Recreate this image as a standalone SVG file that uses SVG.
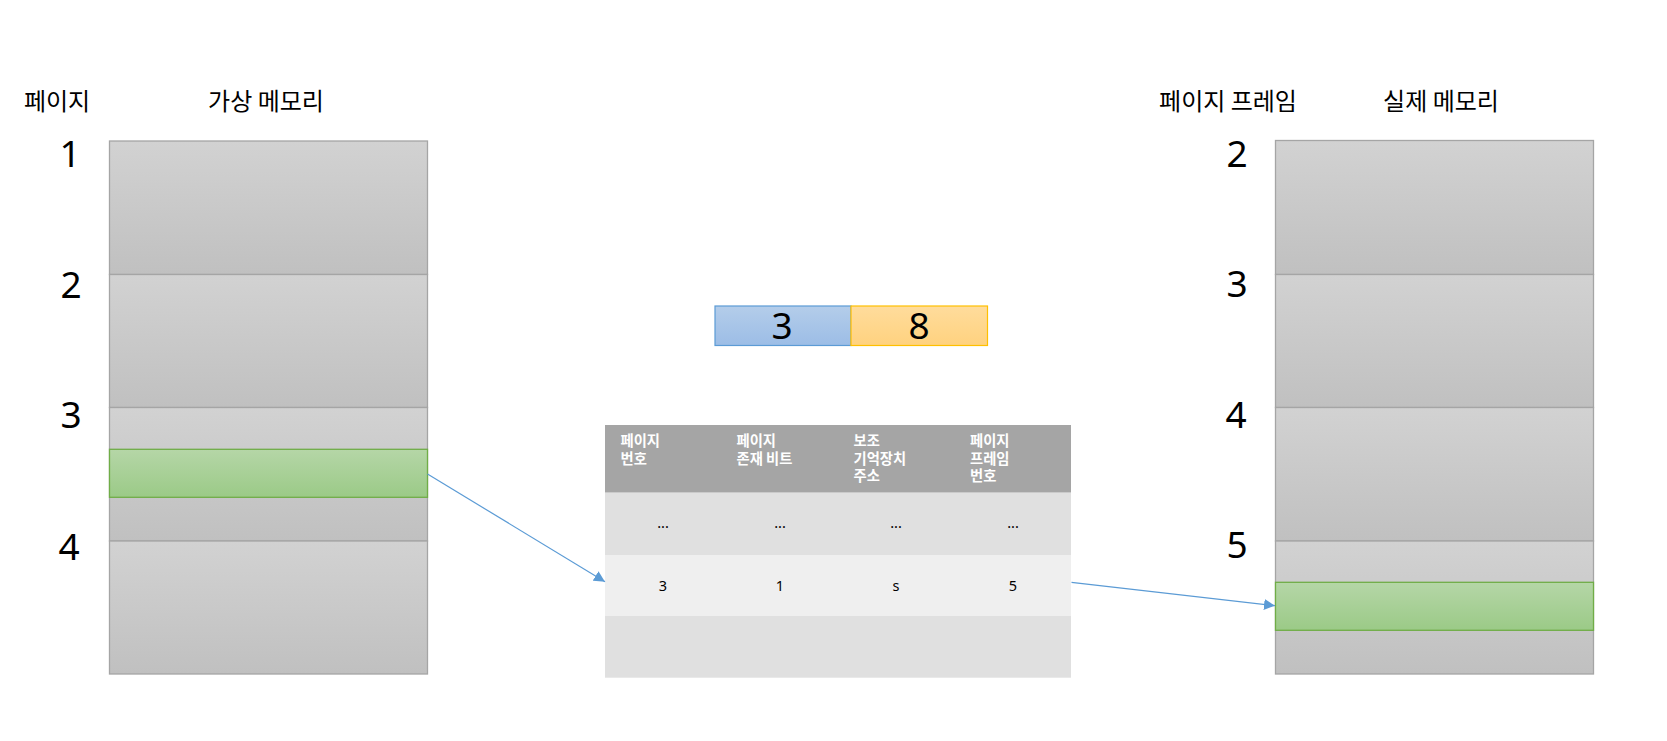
<svg xmlns="http://www.w3.org/2000/svg" width="1667" height="741" viewBox="0 0 1667 741">
<style>
text{font-family:"Noto Sans","Noto Sans CJK KR",sans-serif;fill:#000}
.lbl{font-family:"Noto Sans CJK KR","Noto Sans",sans-serif;font-size:24px}
.num{font-size:37px;text-anchor:middle}
.mem{fill:url(#gGray);stroke:#a5a5a5;stroke-width:1.3}
.sel{fill:url(#gGreen);stroke:#70ad47;stroke-width:1.3}
.hd{font-family:"Noto Sans CJK KR","Noto Sans",sans-serif;font-size:14.3px;font-weight:bold;fill:#fff}
.cell{font-size:14.5px;text-anchor:middle}
.conn{stroke:#5b9bd5;stroke-width:1.2;fill:none;marker-end:url(#arr)}
</style>
<defs>
<linearGradient id="gGray" x1="0" y1="0" x2="0" y2="1"><stop offset="0" stop-color="#d2d2d2"/><stop offset="1" stop-color="#c0c0c0"/></linearGradient>
<linearGradient id="gGreen" x1="0" y1="0" x2="0" y2="1"><stop offset="0" stop-color="#b5d6a7"/><stop offset="1" stop-color="#9bca87"/></linearGradient>
<linearGradient id="gBlue" x1="0" y1="0" x2="0" y2="1"><stop offset="0" stop-color="#b4cdea"/><stop offset="1" stop-color="#9cbde6"/></linearGradient>
<linearGradient id="gOrange" x1="0" y1="0" x2="0" y2="1"><stop offset="0" stop-color="#ffdc9c"/><stop offset="1" stop-color="#ffd27f"/></linearGradient>
<marker id="arr" viewBox="0 0 10 10" refX="10" refY="5" markerWidth="11" markerHeight="11" markerUnits="userSpaceOnUse" orient="auto"><path d="M0,0 L10,5 L0,10 z" fill="#5b9bd5"/></marker>
</defs>

<g id="virtual-memory">
<text class="lbl" x="57" y="110" text-anchor="middle">페이지</text>
<text class="lbl" x="266" y="110" text-anchor="middle">가상 메모리</text>
<text class="num" x="70" y="167">1</text>
<text class="num" x="71" y="298">2</text>
<text class="num" x="71" y="428">3</text>
<text class="num" x="69" y="560">4</text>
<rect class="mem" x="109.5" y="141" width="318" height="133.5"/>
<rect class="mem" x="109.5" y="274.5" width="318" height="133"/>
<rect class="mem" x="109.5" y="407.5" width="318" height="133.5"/>
<rect class="mem" x="109.5" y="541" width="318" height="133"/>
<rect id="vpage" class="sel" x="109.5" y="449.3" width="318" height="48"/>
</g>

<g id="physical-memory">
<text class="lbl" x="1228" y="110" text-anchor="middle">페이지 프레임</text>
<text class="lbl" x="1441" y="110" text-anchor="middle">실제 메모리</text>
<text class="num" x="1237" y="167">2</text>
<text class="num" x="1237" y="297">3</text>
<text class="num" x="1236" y="428">4</text>
<text class="num" x="1237" y="558">5</text>
<rect class="mem" x="1275.5" y="140.5" width="318" height="134"/>
<rect class="mem" x="1275.5" y="274.5" width="318" height="133"/>
<rect class="mem" x="1275.5" y="407.5" width="318" height="133.5"/>
<rect class="mem" x="1275.5" y="541" width="318" height="133"/>
<rect id="frame" class="sel" x="1275.5" y="582.3" width="318" height="48"/>
</g>

<g id="address">
<rect x="715" y="306" width="136" height="39.5" fill="url(#gBlue)" stroke="#5b9bd5" stroke-width="1.2"/>
<rect x="851" y="306" width="136.5" height="39.5" fill="url(#gOrange)" stroke="#ffc000" stroke-width="1.2"/>
<text class="num" x="782" y="339">3</text>
<text class="num" x="919" y="339">8</text>
</g>

<g id="page-table">
<rect x="605" y="425" width="466" height="67.7" fill="#a5a5a5"/>
<rect x="605" y="492.7" width="466" height="62.3" fill="#e0e0e0"/>
<rect x="605" y="555" width="466" height="61" fill="#efefef"/>
<rect x="605" y="616" width="466" height="61.7" fill="#e0e0e0"/>
<text class="hd" x="620.5" y="446">페이지</text>
<text class="hd" x="620.5" y="463.5">번호</text>
<text class="hd" x="736.5" y="446">페이지</text>
<text class="hd" x="736.5" y="463.5">존재 비트</text>
<text class="hd" x="853.5" y="446">보조</text>
<text class="hd" x="853.5" y="463.5">기억장치</text>
<text class="hd" x="853.5" y="481">주소</text>
<text class="hd" x="970" y="446">페이지</text>
<text class="hd" x="970" y="463.5">프레임</text>
<text class="hd" x="970" y="481">번호</text>
<text class="cell" x="663" y="528">...</text>
<text class="cell" x="780" y="528">...</text>
<text class="cell" x="896" y="528">...</text>
<text class="cell" x="1013" y="528">...</text>
<text class="cell" x="663" y="591">3</text>
<text class="cell" x="780" y="591">1</text>
<text class="cell" x="896" y="591">s</text>
<text class="cell" x="1013" y="591">5</text>
</g>

<g id="connectors">
<line class="conn" x1="427.5" y1="474" x2="605" y2="581.7"/>
<line class="conn" x1="1071.5" y1="582.3" x2="1275" y2="605.7"/>
</g>
</svg>
